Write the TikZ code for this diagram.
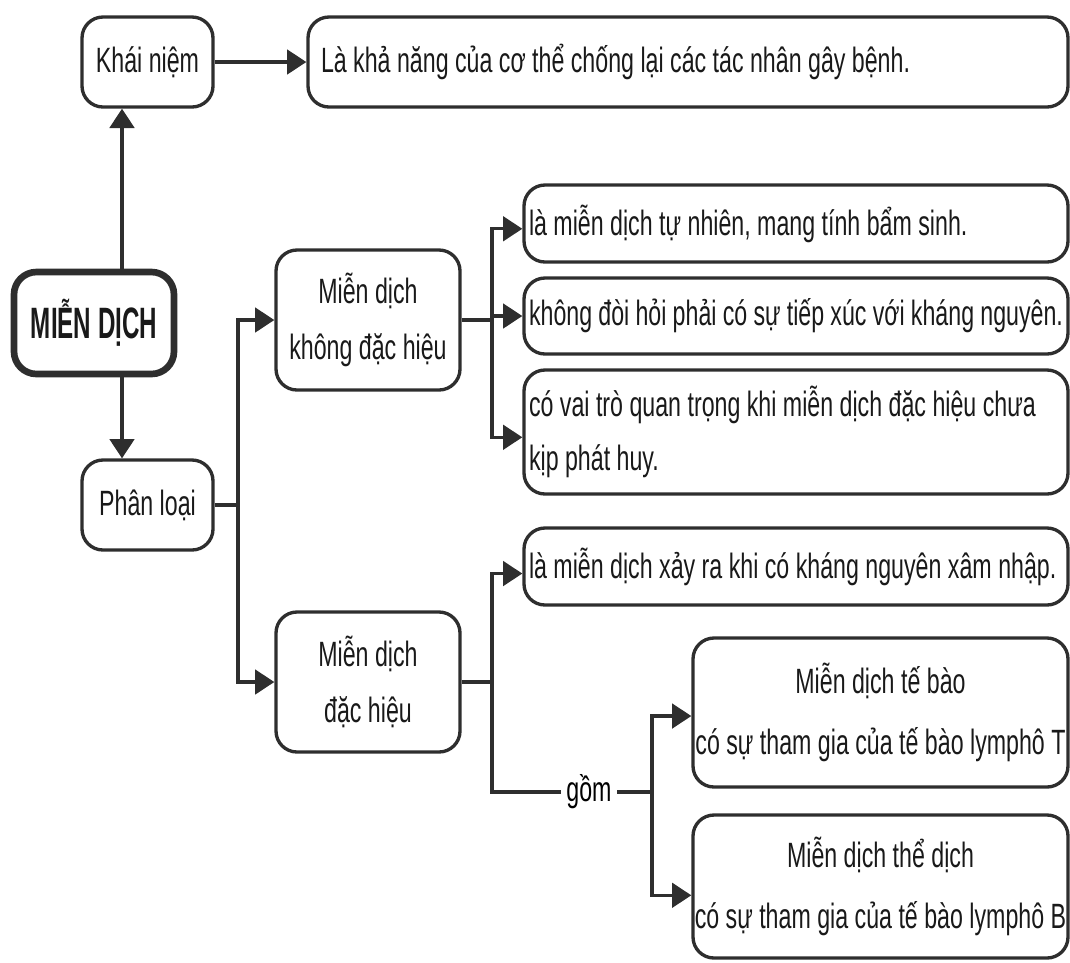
\documentclass[tikz,border=0pt]{standalone}
\usepackage{fontspec}
\setmainfont[FakeStretch=0.66]{Liberation Sans}
\newfontfamily\titlefont[FakeStretch=0.55]{Liberation Sans}
\usetikzlibrary{arrows.meta}
\definecolor{ink}{HTML}{2E2E2E}
\tikzset{
  box/.style={draw=ink, line width=1.9pt, rounded corners=0.42cm, inner sep=0pt, align=center,
              font=\fontsize{20}{32}\selectfont, text=black!90},
  leftbox/.style={box, align=flush left, inner xsep=0.1cm},
  conn/.style={draw=ink, line width=1.8pt},
  arr/.style={conn, -{Triangle[length=11pt,width=14pt]}},
}
\begin{document}
\begin{tikzpicture}
\useasboundingbox (0,0) rectangle (21.4,-19.24);
% nodes
\node[box, minimum width=2.62cm, minimum height=1.8cm] (khai) at (2.95,-1.24) {Khái niệm};
\node[box, align=flush left, inner xsep=0.26cm, text width=14.68cm, minimum height=1.8cm] (def) at (13.76,-1.24) {Là khả năng của cơ thể chống lại các tác nhân gây bệnh.};
\node[box, line width=3.8pt, rounded corners=0.45cm, minimum width=3.2cm, minimum height=2.04cm, font=\titlefont\bfseries\fontsize{25}{30}\selectfont] (mien) at (1.88,-6.46) {MIỄN DỊCH};
\node[box, minimum width=2.62cm, minimum height=1.8cm] (phan) at (2.95,-10.1) {Phân loại};
\node[box, minimum width=3.68cm, minimum height=2.8cm] (khong) at (7.36,-6.4) {Miễn dịch\\không đặc hiệu};
\node[box, minimum width=3.68cm, minimum height=2.8cm] (dac) at (7.36,-13.64) {Miễn dịch\\đặc hiệu};
\node[leftbox, text width=10.68cm, minimum height=1.54cm] (b1) at (15.92,-4.47) {là miễn dịch tự nhiên, mang tính bẩm sinh.};
\node[leftbox, text width=10.68cm, minimum height=1.52cm] (b2) at (15.92,-6.32) {không đòi hỏi phải có sự tiếp xúc với kháng nguyên.};
\node[leftbox, text width=10.68cm, minimum height=2.48cm, font=\fontsize{20}{31}\selectfont] (b3) at (15.92,-8.64) {có vai trò quan trọng khi miễn dịch đặc hiệu chưa\\kịp phát huy.};
\node[leftbox, text width=10.68cm, minimum height=1.54cm] (b4) at (15.92,-11.33) {là miễn dịch xảy ra khi có kháng nguyên xâm nhập.};
\node[box, minimum width=7.5cm, minimum height=2.98cm, font=\fontsize{20}{35}\selectfont] (b5) at (17.61,-14.25) {Miễn dịch tế bào\\có sự tham gia của tế bào lymphô T};
\node[box, minimum width=7.5cm, minimum height=2.86cm, font=\fontsize{20}{35}\selectfont] (b6) at (17.61,-17.73) {Miễn dịch thể dịch\\có sự tham gia của tế bào lymphô B};
\node[font=\fontsize{20}{24}\selectfont, inner xsep=3pt, inner ysep=0pt] (gom) at (11.78,-15.84) {gồm};
% junctions
\coordinate (ax) at (2.44,0);
\coordinate (jp) at (4.76,-10.1);
\coordinate (jk) at (9.84,-6.4);
\coordinate (jd) at (9.84,-13.64);
\coordinate (jg) at (9.84,-15.84);
\coordinate (jh) at (13.04,-15.84);
% connectors
\draw[arr] (khai.east) -- (def.west);
\draw[arr] (mien.north -| ax) -- (khai.south -| ax);
\draw[arr] (mien.south -| ax) -- (phan.north -| ax);
\draw[conn] (phan.east) -- (jp);
\draw[arr] (jp) |- (khong.west);
\draw[arr] (jp) |- (dac.west);
\draw[conn] (khong.east) -- (jk);
\draw[arr] (jk) |- ([yshift=-3pt]b1.west);
\draw[arr] (jk) |- (b2.west);
\draw[arr] (jk) |- ([yshift=-3pt]b3.west);
\draw[conn] (dac.east) -- (jd);
\draw[arr] (jd) |- ([yshift=-4pt]b4.west);
\draw[conn] (jd) -- (jg) -- (gom.west);
\draw[conn] (gom.east) -- (jh);
\draw[arr] (jh) |- ([yshift=-2pt]b5.west);
\draw[arr] (jh) |- ([yshift=-5pt]b6.west);
\end{tikzpicture}
\end{document}
